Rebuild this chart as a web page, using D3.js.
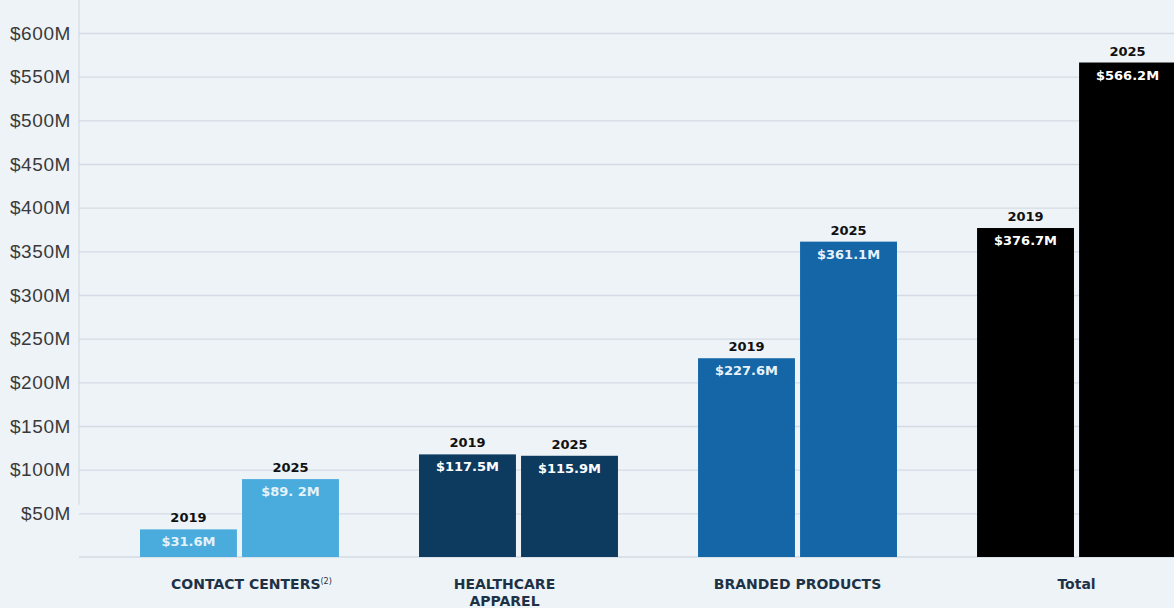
<!DOCTYPE html>
<html>
<head>
<meta charset="utf-8">
<script src="https://cdn.jsdelivr.net/npm/d3@7"></script>
<style>
  html, body { margin: 0; padding: 0; background: #eef3f7; }
  svg { display: block; font-family: "DejaVu Sans", sans-serif; }
</style>
</head>
<body>
<svg id="chart" width="1174" height="608"></svg>
<script>
const categories = ["CONTACT CENTERS", "HEALTHCARE APPAREL", "BRANDED PRODUCTS", "Total"];
const years = ["2019", "2025"];
const values2019 = [31.6, 117.5, 227.6, 376.7];
const values2025 = [89.2, 115.9, 361.1, 566.2];
const valueLabels2019 = ["$31.6M", "$117.5M", "$227.6M", "$376.7M"];
const valueLabels2025 = ["$89. 2M", "$115.9M", "$361.1M", "$566.2M"];
const yTicks = [50, 100, 150, 200, 250, 300, 350, 400, 450, 500, 550, 600];
const colors = ["#49acdc", "#0d3a5f", "#1466a7", "#000000"];
const valueTextColors = ["#e3f2fb", "#ffffff", "#e8f2fa", "#ffffff"];

const rows = categories.map((c, i) => ({
  category: c,
  bars: [
    { year: years[0], value: values2019[i], label: valueLabels2019[i] },
    { year: years[1], value: values2025[i], label: valueLabels2025[i] }
  ]
}));

const svg = d3.select("#chart");

const y = d3.scaleLinear().domain([0, 600]).range([557, 33]);

const x0 = d3.scaleBand()
  .domain(categories)
  .range([140, 1176])
  .paddingInner(0.287)
  .paddingOuter(0);

const x1 = d3.scaleBand()
  .domain(years)
  .range([0, x0.bandwidth()])
  .paddingInner(0.05);

// gridlines + tick labels
const yAxis = svg.append("g")
  .attr("transform", "translate(79,0)")
  .call(d3.axisLeft(y).tickValues(yTicks).tickSize(-1100).tickFormat((d) => `$${d}M`));

yAxis.select(".domain").remove();
yAxis.selectAll(".tick line").attr("stroke", "#d3dbe5").attr("stroke-width", 1.3);
yAxis.selectAll(".tick text")
  .attr("x", -8)
  .attr("fill", "#3a3a3a")
  .style("font-size", "19px")
  .style("letter-spacing", "0.6px");

// left axis line and baseline
svg.append("line")
  .attr("x1", 79).attr("x2", 79)
  .attr("y1", 0).attr("y2", y(60))
  .attr("stroke", "#cfd6de");

svg.append("line")
  .attr("x1", 79).attr("x2", 1174)
  .attr("y1", y(0)).attr("y2", y(0))
  .attr("stroke", "#d3dbe5")
  .attr("stroke-width", 1.3);

const groups = svg.selectAll(".group")
  .data(rows)
  .enter()
  .append("g")
  .attr("class", "group")
  .attr("transform", (d) => `translate(${x0(d.category)},0)`);

groups.each(function (row, i) {
  const g = d3.select(this);
  const bars = g.selectAll(".bar")
    .data(row.bars)
    .enter();

  bars.append("rect")
    .attr("class", "bar")
    .attr("x", (d) => x1(d.year))
    .attr("y", (d) => y(d.value))
    .attr("width", x1.bandwidth())
    .attr("height", (d) => y(0) - y(d.value))
    .attr("fill", colors[i]);

  bars.append("text")
    .attr("x", (d) => x1(d.year) + x1.bandwidth() / 2)
    .attr("y", (d) => y(d.value) - 7)
    .attr("text-anchor", "middle")
    .attr("fill", "#111")
    .style("font-size", "13px")
    .style("font-weight", "bold")
    .text((d) => d.year);

  bars.append("text")
    .attr("x", (d) => x1(d.year) + x1.bandwidth() / 2)
    .attr("y", (d) => y(d.value) + 17)
    .attr("text-anchor", "middle")
    .attr("fill", valueTextColors[i])
    .style("font-size", "13px")
    .style("font-weight", "bold")
    .text((d) => d.label);
});

// category labels
const catLabels = svg.selectAll(".cat")
  .data(categories)
  .enter()
  .append("text")
  .attr("class", "cat")
  .attr("x", (d) => x0(d) + x0.bandwidth() / 2)
  .attr("y", 589)
  .attr("text-anchor", "middle")
  .attr("fill", "#1e3246")
  .style("font-size", "14px")
  .style("font-weight", "bold");

catLabels.each(function (d) {
  const t = d3.select(this);
  if (d === "CONTACT CENTERS") {
    t.attr("x", x0(d) + x0.bandwidth() / 2 + 12);
    t.append("tspan").text("CONTACT CENTERS");
    t.append("tspan").attr("dy", -5).style("font-size", "8px").style("font-weight", "normal").text("(2)");
  } else if (d === "HEALTHCARE APPAREL") {
    t.append("tspan").attr("x", x0(d) + x0.bandwidth() / 2 - 14).text("HEALTHCARE");
    t.append("tspan").attr("x", x0(d) + x0.bandwidth() / 2 - 14).attr("dy", 17).text("APPAREL");
  } else {
    t.text(d);
  }
});
</script>
</body>
</html>
